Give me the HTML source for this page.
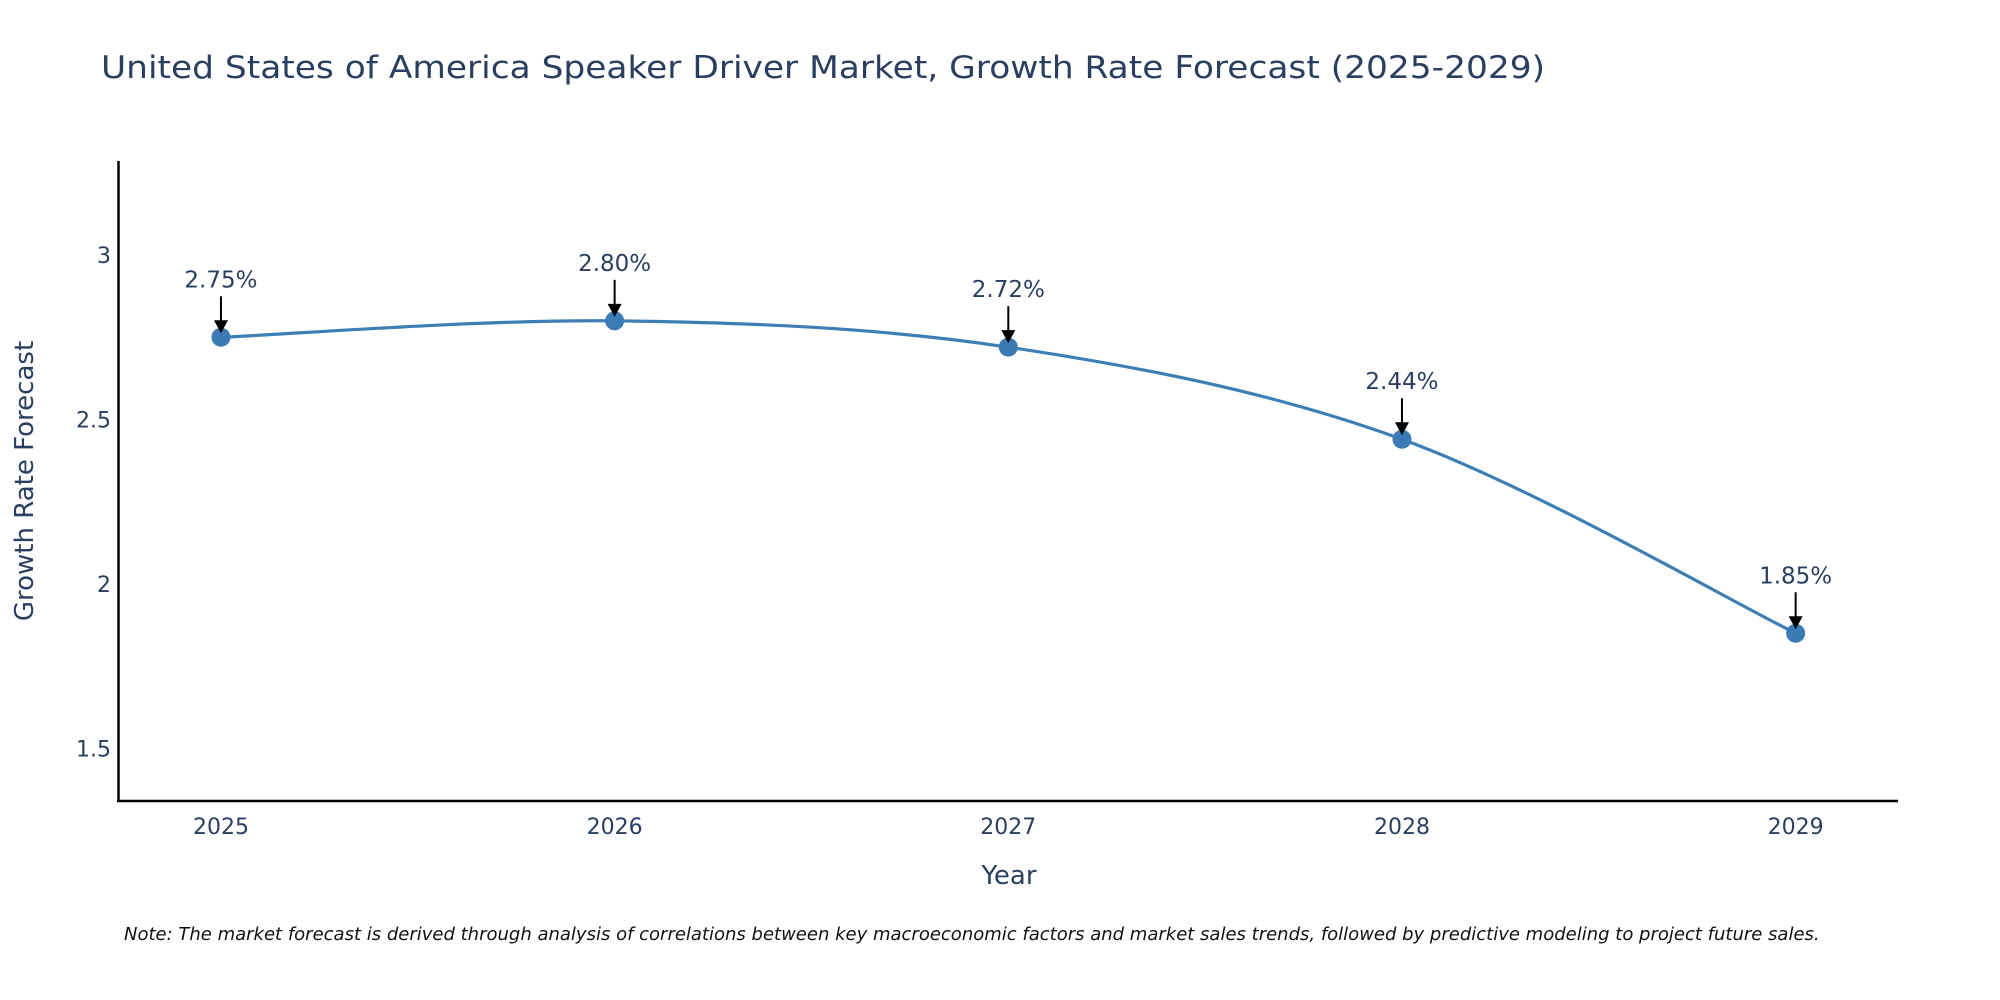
<!DOCTYPE html>
<html><head><meta charset="utf-8"><style>
html,body{margin:0;padding:0;background:#fff;}
svg{display:block;font-family:"DejaVu Sans","Liberation Sans",sans-serif;}
</style></head><body>
<svg id="chart" width="2000" height="1000" viewBox="0 0 2000 1000">
<text x="101" y="78" font-size="31" fill="#2a3f5f" textLength="1444" lengthAdjust="spacingAndGlyphs">United States of America Speaker Driver Market, Growth Rate Forecast (2025-2029)</text>
<g id="yticks"></g>
<g id="xticks"></g>
<path id="line" fill="none" stroke="#3d7fb4" stroke-width="3.2"/>
<g id="marks"></g>
<g id="ann"></g>
<line x1="118.5" y1="161" x2="118.5" y2="802" stroke="#000" stroke-width="2.5"/>
<line x1="117" y1="801" x2="1898" y2="801" stroke="#000" stroke-width="2.5"/>
<text transform="translate(33,481) rotate(-90)" text-anchor="middle" font-size="26" fill="#2a3f5f">Growth Rate Forecast</text>
<text x="1009" y="884" text-anchor="middle" font-size="26" fill="#2a3f5f">Year</text>
<text x="124" y="940" font-size="18" font-style="italic" fill="#111">Note: The market forecast is derived through analysis of correlations between key macroeconomic factors and market sales trends, followed by predictive modeling to project future sales.</text>
</svg>
<script>
const years = [2025, 2026, 2027, 2028, 2029];
const values = [2.75, 2.80, 2.72, 2.44, 1.85];
const labels = ["2.75%", "2.80%", "2.72%", "2.44%", "1.85%"];
const yTicks = [1.5, 2, 2.5, 3];
const yTickLabels = ["1.5", "2", "2.5", "3"];

const NS = "http://www.w3.org/2000/svg";
const X0 = 2024.74, X1 = 2029.26, PX0 = 118.6, PX1 = 1898;
const Y0 = 1.34, Y1 = 3.286, PY0 = 801, PY1 = 161;
function xs(v){ return PX0 + (v - X0) / (X1 - X0) * (PX1 - PX0); }
function ys(v){ return PY0 + (v - Y0) / (Y1 - Y0) * (PY1 - PY0); }
function mk(tag, attrs, parent){ const e = document.createElementNS(NS, tag); for (const k in attrs) e.setAttribute(k, attrs[k]); parent.appendChild(e); return e; }

const yg = document.getElementById('yticks');
yTicks.forEach((t, i) => {
  const e = mk('text', {x: 111, y: ys(t) + 8, 'text-anchor': 'end', 'font-size': 22, fill: '#2a3f5f'}, yg);
  
  
  e.textContent = yTickLabels[i];
});
const xg = document.getElementById('xticks');
years.forEach(yr => {
  const e = mk('text', {x: xs(yr), y: 834, 'text-anchor': 'middle', 'font-size': 22, fill: '#2a3f5f'}, xg);
  
  
  e.textContent = String(yr);
});

const pts = years.map((y, i) => [xs(y), ys(values[i])]);
let d = `M${pts[0][0]},${pts[0][1]}`;
const s = 1/6;
for (let i = 0; i < pts.length - 1; i++) {
  const p0 = pts[Math.max(0, i-1)], p1 = pts[i], p2 = pts[i+1], p3 = pts[Math.min(pts.length-1, i+2)];
  const c1 = [p1[0] + (p2[0]-p0[0])*s, p1[1] + (p2[1]-p0[1])*s];
  const c2 = [p2[0] - (p3[0]-p1[0])*s, p2[1] - (p3[1]-p1[1])*s];
  d += ` C${c1[0]},${c1[1]} ${c2[0]},${c2[1]} ${p2[0]},${p2[1]}`;
}
document.getElementById('line').setAttribute('d', d);

const mg = document.getElementById('marks'), ag = document.getElementById('ann');
pts.forEach((p, i) => {
  const c = mk('circle', {cx: p[0], cy: p[1], r: 9.5, fill: '#3a7ab5'}, mg);
  
  
  const l = mk('line', {x1: p[0], y1: p[1] - 41, x2: p[0], y2: p[1] - 16, stroke: '#000', 'stroke-width': 2}, ag);
  
  
  const h = mk('path', {d: `M${p[0]-7},${p[1]-17} L${p[0]+7},${p[1]-17} L${p[0]},${p[1]-4} Z`, fill: '#000'}, ag);
  
  
  const t = mk('text', {x: p[0], y: p[1] - 50, 'text-anchor': 'middle', 'font-size': 23, fill: '#2a3f5f'}, ag);
  
  
  t.textContent = labels[i];
});
</script>
</body></html>
